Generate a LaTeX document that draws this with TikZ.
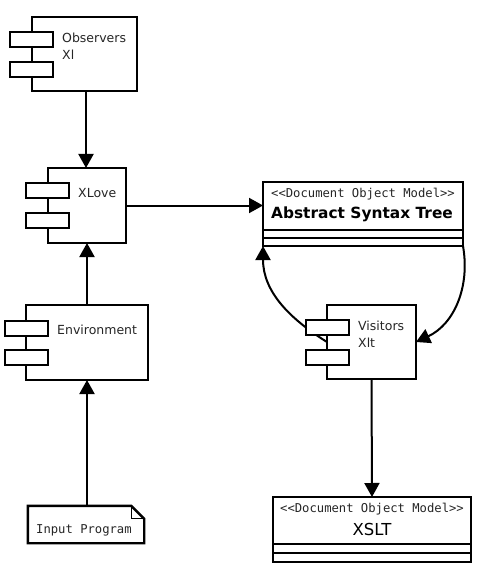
\documentclass[tikz,border=0pt]{standalone}
\usepackage{fontspec}
\setmainfont{DejaVu Sans}
\setmonofont{DejaVu Sans Mono}
\usetikzlibrary{arrows.meta}
\tikzset{
  box/.style={draw, line width=2.4pt, fill=white, inner sep=0pt, outer sep=0pt},
  bar/.style={draw, line width=2.4pt, fill=white},
  conn/.style={line width=2pt, -{Triangle[length=14pt,width=15pt]}},
  lbl/.style={inner sep=0pt, anchor=west, text=black!85, font=\fontsize{12.5}{17}\selectfont},
  lbl2/.style={inner sep=0pt, anchor=north west, align=left, text=black!85, font=\fontsize{12.5}{17}\selectfont},
  stereo/.style={inner sep=0pt, text=black!85, font=\ttfamily\fontsize{12.2}{14}\selectfont},
}
\begin{document}
\begin{tikzpicture}[x=1pt,y=-1pt]
\useasboundingbox (0,0) rectangle (476,572);
% ---------- components ----------
% Observers
\node[box, minimum width=105pt, minimum height=74pt] (obs) at (84.5,54) {};
\draw[bar] (10,32) rectangle ++(43,15);
\draw[bar] (10,62) rectangle ++(43,15);
\node[lbl2] (obsT) at (62,33) {Observers\\Xl};
% XLove
\node[box, minimum width=78pt, minimum height=75pt] (xlove) at (87,205.5) {};
\draw[bar] (26,183) rectangle ++(43,15);
\draw[bar] (26,213) rectangle ++(43,15);
\node[lbl] (xloveT) at (78,193) {XLove};
% Environment
\node[box, minimum width=122pt, minimum height=75pt] (env) at (87,342.5) {};
\draw[bar] (5,321) rectangle ++(43,15);
\draw[bar] (5,350) rectangle ++(43,15);
\node[lbl] (envT) at (57,330) {Environment};
% Visitors
\node[box, minimum width=89pt, minimum height=74pt] (vis) at (371.5,342) {};
% ---------- classes ----------
% AST
\node[box, minimum width=200pt, minimum height=64pt] (ast) at (363,214) {};
\draw[line width=2.4pt] (263,230) -- (463,230);
\draw[line width=2.4pt] (263,238) -- (463,238);
\node[stereo] (astS) at (363,194) {<<Document Object Model>>};
\node[inner sep=0pt, font=\bfseries\fontsize{15.4}{18}\selectfont] (astN) at (362,214.5) {Abstract Syntax Tree};
% XSLT
\node[box, minimum width=198pt, minimum height=65pt] (xslt) at (372,529.5) {};
\draw[line width=2.4pt] (273,544) -- (471,544);
\draw[line width=2.4pt] (273,553) -- (471,553);
\node[stereo] (xsltS) at (372,509) {<<Document Object Model>>};
\node[inner sep=0pt, font=\fontsize{16.5}{18}\selectfont] (xsltN) at (372,529.5) {XSLT};
% Input Program note
\node[minimum width=116pt, minimum height=37pt, inner sep=0pt] (inp) at (86,524.5) {};
\draw[line width=2.4pt, fill=white] (inp.north west) -- ([xshift=-13pt]inp.north east) -- ([yshift=-13pt]inp.north east) -- (inp.south east) -- (inp.south west) -- cycle;
\draw[line width=1.2pt] ([xshift=-13pt]inp.north east) |- ([yshift=-13pt]inp.north east);
\node[stereo, anchor=west] (inpT) at (36,530) {Input Program};
% ---------- connectors ----------
\draw[conn] (obs.south -| 86,0) -- (86,168);
\draw[conn] (xlove.east) -- (xlove.east -| ast.west);
\draw[conn] (env.north) -- (xlove.south);
\draw[conn] (inp.north -| env.north) -- (env.south);
\draw[conn] (vis.south) -- (xslt.north);
\draw[conn] (327,342) to[out=148,in=-90] (ast.south west);
\draw[conn] (ast.south east) to[out=-80,in=25] (vis.east);
% Visitors bars on top of the curve
\draw[bar] (306,320) rectangle ++(43,15);
\draw[bar] (306,350) rectangle ++(43,15);
\node[lbl2] (visT) at (358,321) {Visitors\\Xlt};
\end{tikzpicture}
\end{document}
